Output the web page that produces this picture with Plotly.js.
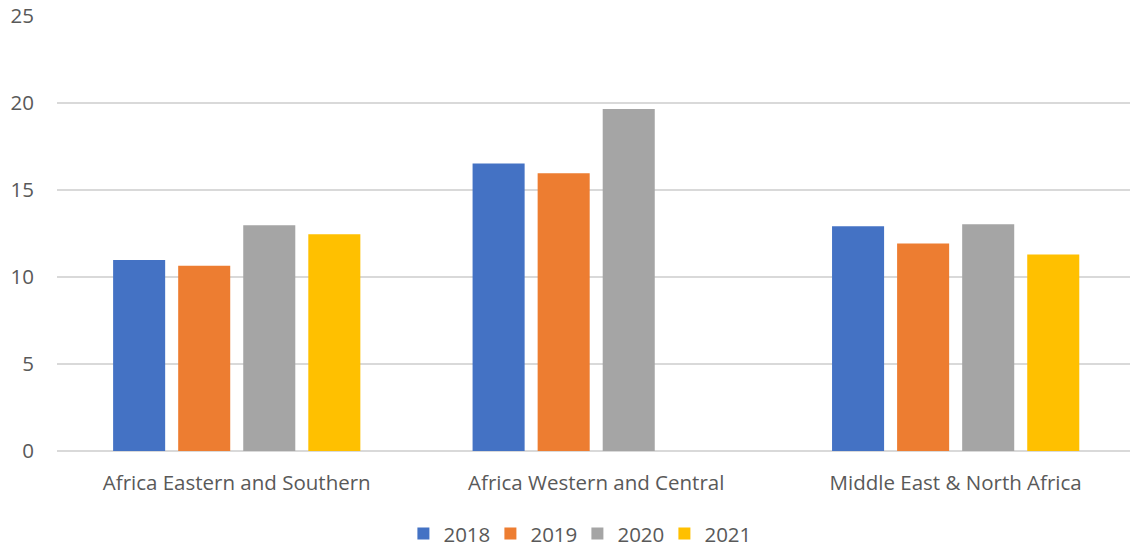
<!DOCTYPE html>
<html>
<head>
<meta charset="utf-8">
<script src="https://cdn.plot.ly/plotly-3.0.1.min.js"></script>
<style>
  html, body { margin: 0; padding: 0; background: #ffffff; }
  #chart { width: 1130px; height: 548px; }
</style>
</head>
<body>
<div id="chart"></div>
<script>
// Regions shown along the x axis
const regions = ["Africa Eastern and Southern", "Africa Western and Central", "Middle East & North Africa"];

// One series per year (null = no value reported)
const years = ["2018", "2019", "2020", "2021"];
const values2018 = [10.98, 16.53, 12.91];
const values2019 = [10.65, 15.96, 11.93];
const values2020 = [12.97, 19.66, 13.03];
const values2021 = [12.45, null, 11.30];

const seriesValues = [values2018, values2019, values2020, values2021];
const seriesColors = ["#4472C4", "#ED7D31", "#A5A5A5", "#FFC000"];

const traces = years.map((yr, i) => ({
  type: "bar",
  name: yr,
  x: regions,
  y: seriesValues[i],
  marker: { color: seriesColors[i] },
  hoverinfo: "x+y+name"
}));

const fontFamily = "'Open Sans', sans-serif";
const textColor = "#595959";
const textSize = 20.5;

const layout = {
  width: 1130,
  height: 548,
  margin: { l: 57, r: 0, t: 16, b: 97, autoexpand: false },
  paper_bgcolor: "#ffffff",
  plot_bgcolor: "#ffffff",
  barmode: "group",
  bargap: 0.276,
  bargroupgap: 0.2,
  font: { family: fontFamily, color: textColor, size: textSize },
  xaxis: {
    type: "category",
    range: [-0.5, 2.485],
    showgrid: false,
    showline: false,
    zeroline: false,
    ticks: "",
    automargin: false,
    tickfont: { family: fontFamily, size: textSize, color: textColor },
    ticklabelstandoff: 17
  },
  yaxis: {
    range: [0, 25],
    dtick: 5,
    tick0: 0,
    showgrid: true,
    gridcolor: "#d9d9d9",
    gridwidth: 1.3,
    zeroline: true,
    zerolinecolor: "#d9d9d9",
    zerolinewidth: 1.3,
    showline: false,
    ticks: "",
    automargin: false,
    tickfont: { family: fontFamily, size: textSize, color: textColor },
    ticklabelstandoff: 22
  },
  legend: {
    orientation: "h",
    x: 0.485,
    xref: "paper",
    xanchor: "center",
    yref: "container",
    y: 0.026,
    yanchor: "middle",
    font: { family: fontFamily, size: textSize, color: textColor },
    itemwidth: 30,
    entrywidth: 42,
    entrywidthmode: "pixels",
    traceorder: "normal"
  },
  showlegend: true
};

Plotly.newPlot("chart", traces, layout, { displayModeBar: false, staticPlot: true });
</script>
</body>
</html>
